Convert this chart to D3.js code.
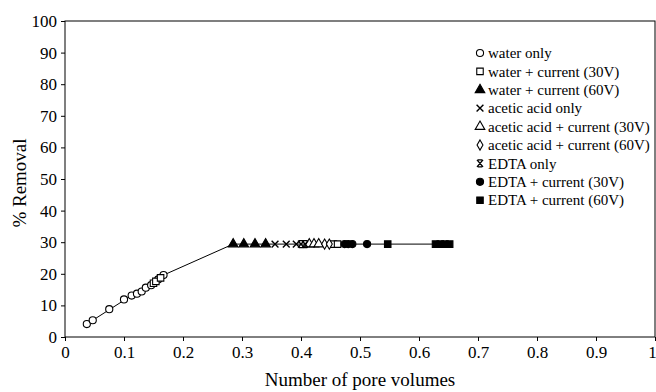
<!DOCTYPE html>
<html>
<head>
<meta charset="utf-8">
<script src="https://cdn.jsdelivr.net/npm/d3@7"></script>
<style>
  html, body { margin: 0; padding: 0; background: #fff; }
  svg { display: block; font-family: "Liberation Serif", "Times New Roman", serif; }
</style>
</head>
<body>
<div id="chart"></div>
<script>
const xTicks = [0, 0.1, 0.2, 0.3, 0.4, 0.5, 0.6, 0.7, 0.8, 0.9, 1];
const yTicks = [0, 10, 20, 30, 40, 50, 60, 70, 80, 90, 100];

const waterOnly = [[0.037, 4.1], [0.047, 5.3], [0.075, 8.8], [0.1, 11.9], [0.113, 13.1], [0.122, 13.7], [0.13, 14.4], [0.137, 15.6], [0.146, 16.4], [0.158, 18.2], [0.167, 19.6]];
const waterCurrent30 = [[0.15, 17], [0.154, 17.6], [0.162, 18.7], [0.455, 29.4], [0.462, 29.4]];
const waterCurrent60 = [[0.285, 29.4], [0.303, 29.4], [0.322, 29.4], [0.34, 29.4]];
const aceticOnly = [[0.356, 29.4], [0.375, 29.4], [0.392, 29.4]];
const aceticCurrent30 = [[0.414, 29.4], [0.422, 29.4], [0.43, 29.4]];
const aceticCurrent60 = [[0.44, 29.4], [0.448, 29.4]];
const edtaOnly = [[0.4, 29.4], [0.407, 29.4]];
const edtaCurrent30 = [[0.474, 29.4], [0.48, 29.4], [0.487, 29.4], [0.512, 29.4]];
const edtaCurrent60 = [[0.547, 29.4], [0.628, 29.4], [0.636, 29.4], [0.644, 29.4], [0.652, 29.4]];

const series = [
  { name: "water only", points: waterOnly, shape: "circle", filled: false },
  { name: "water + current (30V)", points: waterCurrent30, shape: "square", filled: false },
  { name: "water + current (60V)", points: waterCurrent60, shape: "triangle", filled: true },
  { name: "acetic acid only", points: aceticOnly, shape: "times", filled: false },
  { name: "acetic acid + current (30V)", points: aceticCurrent30, shape: "triangle", filled: false },
  { name: "acetic acid + current (60V)", points: aceticCurrent60, shape: "diamond", filled: false },
  { name: "EDTA only", points: edtaOnly, shape: "asterisk", filled: false },
  { name: "EDTA + current (30V)", points: edtaCurrent30, shape: "circle", filled: true },
  { name: "EDTA + current (60V)", points: edtaCurrent60, shape: "square", filled: true },
];

const width = 656;
const height = 392;
const margin = { top: 21, right: 1, bottom: 55, left: 65 };

const svg = d3.select("#chart").append("svg")
  .attr("width", width)
  .attr("height", height);

const x = d3.scaleLinear().domain([0, 1]).range([margin.left, width - margin.right]);
const y = d3.scaleLinear().domain([0, 100]).range([height - margin.bottom, margin.top]);

// frame
svg.append("rect")
  .attr("x", x(0)).attr("y", y(100))
  .attr("width", x(1) - x(0)).attr("height", y(0) - y(100))
  .attr("fill", "none").attr("stroke", "#000").attr("stroke-width", 1);

svg.append("g")
  .attr("transform", `translate(0,${y(0)})`)
  .call(d3.axisBottom(x).tickValues(xTicks).tickFormat(d3.format("")).tickSize(4).tickPadding(5))
  .call((g) => g.select(".domain").remove())
  .call((g) => g.selectAll("text").attr("font-size", 17).attr("font-family", "Liberation Serif").attr("fill", "#000"))
  // last label sits on the right edge, nudge it in so it is not clipped
  .call((g) => g.selectAll("text").filter((d) => d === 1).attr("dx", -3));

svg.append("g")
  .attr("transform", `translate(${x(0)},0)`)
  .call(d3.axisLeft(y).tickValues(yTicks).tickSize(4).tickPadding(4))
  .call((g) => g.select(".domain").remove())
  .call((g) => g.selectAll("text").attr("font-size", 17).attr("font-family", "Liberation Serif").attr("fill", "#000"));

svg.append("text")
  .attr("x", (x(0) + x(1)) / 2)
  .attr("y", height - 6)
  .attr("text-anchor", "middle")
  .attr("font-size", 19)
  .text("Number of pore volumes");

svg.append("text")
  .attr("transform", `translate(26,${(y(0) + y(100)) / 2 + 4}) rotate(-90)`)
  .attr("text-anchor", "middle")
  .attr("font-size", 19)
  .text("% Removal");

// connecting line: rising part through water-only, then flat plateau
const trend = [waterOnly[0], waterOnly[waterOnly.length - 1], waterCurrent60[0], edtaCurrent60[edtaCurrent60.length - 1]];
svg.append("path")
  .datum(trend)
  .attr("fill", "none")
  .attr("stroke", "#000")
  .attr("stroke-width", 1)
  .attr("d", d3.line().x((d) => x(d[0])).y((d) => y(d[1])));

function markerPath(shape) {
  switch (shape) {
    case "circle": return d3.symbol(d3.symbolCircle, 40)();
    case "square": return d3.symbol(d3.symbolSquare, 42)();
    case "triangle": return d3.symbol(d3.symbolTriangle, 40)();
    case "diamond": return d3.symbol(d3.symbolDiamond, 30)();
    case "times": return d3.symbol(d3.symbolTimes, 32)();
    case "asterisk": return "M-2.2,-3.5H2.2M-2.2,3.5H2.2M-3,-3.5L3,3.5M3,-3.5L-3,3.5";
  }
}

function drawMarker(sel, s) {
  const lineOnly = s.shape === "times" || s.shape === "asterisk";
  sel.append("path")
    .attr("d", markerPath(s.shape))
    .attr("fill", lineOnly ? "none" : (s.filled ? "#000" : "#fff"))
    .attr("stroke", "#000")
    .attr("stroke-width", lineOnly ? 1.4 : 1.1);
}

series.forEach((s) => {
  svg.append("g").selectAll("g")
    .data(s.points)
    .join("g")
    .attr("transform", (d) => `translate(${x(d[0])},${y(d[1])})`)
    .each(function () { drawMarker(d3.select(this), s); });
});

// legend
const legend = svg.append("g").attr("transform", "translate(480,53)");
series.forEach((s, i) => {
  const row = legend.append("g").attr("transform", `translate(0,${i * 18.4})`);
  drawMarker(row, s);
  row.append("text")
    .attr("x", 8)
    .attr("dy", "0.35em")
    .attr("font-size", 15)
    .text(s.name);
});
</script>
</body>
</html>
